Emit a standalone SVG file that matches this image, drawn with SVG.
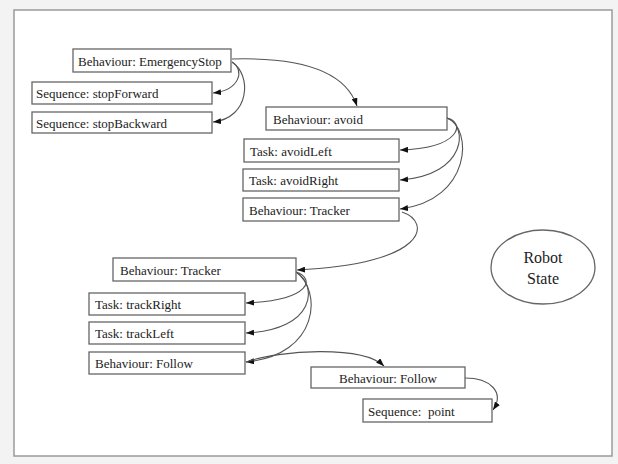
<svg xmlns="http://www.w3.org/2000/svg" width="618" height="464" viewBox="0 0 618 464">
<style>
.box{fill:#fff;stroke:#666;stroke-width:1.3}
.t{font-family:"Liberation Serif","Times New Roman",serif;font-size:13px;fill:#222}
.c{fill:none;stroke:#555;stroke-width:1.1}
</style>
<defs>
<marker id="ah" markerWidth="8" markerHeight="6" refX="8" refY="3" orient="auto" markerUnits="userSpaceOnUse">
<path d="M0,0 L8,3 L0,6 z" fill="#111"/>
</marker>
</defs>
<rect x="0" y="0" width="618" height="464" fill="#f3f3f3"/>
<rect x="14" y="10" width="598" height="446" fill="#fff" stroke="#9a9a9a" stroke-width="1.5"/>
<g id="connectors">
<path class="c" marker-end="url(#ah)" d="M232,62 C245,70 240,90 213,93"/>
<path class="c" marker-end="url(#ah)" d="M232,62 C252,75 250,118 213,122"/>
<path class="c" marker-end="url(#ah)" d="M232,59 C300,57 345,70 357,106"/>
<path class="c" marker-end="url(#ah)" d="M447,118 C465,122 462,148 400,150"/>
<path class="c" marker-end="url(#ah)" d="M447,118 C468,125 468,175 400,180"/>
<path class="c" marker-end="url(#ah)" d="M447,118 C473,128 472,200 400,209"/>
<path class="c" marker-end="url(#ah)" d="M402,212 C432,222 428,264 297,270"/>
<path class="c" marker-end="url(#ah)" d="M296,272 C315,278 312,300 246,303"/>
<path class="c" marker-end="url(#ah)" d="M296,272 C318,285 316,330 246,333"/>
<path class="c" marker-end="url(#ah)" d="M296,272 C322,290 320,355 246,362"/>
<path class="c" marker-end="url(#ah)" d="M246,362 C280,350 362,345 384,366"/>
<path class="c" marker-end="url(#ah)" d="M465,378 C490,378 505,392 493,410"/>
</g>
<g id="n_emergency"><rect class="box" x="73" y="49" width="158" height="23"/><text class="t" x="78" y="66">Behaviour: EmergencyStop</text></g>
<g id="n_stopForward"><rect class="box" x="32" y="82" width="180" height="22"/><text class="t" x="36" y="98">Sequence: stopForward</text></g>
<g id="n_stopBackward"><rect class="box" x="32" y="112" width="180" height="21"/><text class="t" x="36" y="128">Sequence: stopBackward</text></g>
<g id="n_avoid"><rect class="box" x="266" y="107" width="181" height="23"/><text class="t" x="273" y="124">Behaviour: avoid</text></g>
<g id="n_avoidLeft"><rect class="box" x="244" y="139" width="155" height="23"/><text class="t" x="250" y="156">Task: avoidLeft</text></g>
<g id="n_avoidRight"><rect class="box" x="243" y="169" width="156" height="22"/><text class="t" x="249" y="185">Task: avoidRight</text></g>
<g id="n_tracker1"><rect class="box" x="243" y="198" width="156" height="23"/><text class="t" x="249" y="215">Behaviour: Tracker</text></g>
<g id="n_tracker2"><rect class="box" x="113" y="258" width="183" height="23"/><text class="t" x="120" y="275">Behaviour: Tracker</text></g>
<g id="n_trackRight"><rect class="box" x="89" y="293" width="156" height="22"/><text class="t" x="95" y="309">Task: trackRight</text></g>
<g id="n_trackLeft"><rect class="box" x="89" y="322" width="156" height="22"/><text class="t" x="95" y="338">Task: trackLeft</text></g>
<g id="n_follow1"><rect class="box" x="89" y="352" width="156" height="22"/><text class="t" x="95" y="368">Behaviour: Follow</text></g>
<g id="n_follow2"><rect class="box" x="311" y="367" width="154" height="21"/><text class="t" x="388" y="383" text-anchor="middle">Behaviour: Follow</text></g>
<g id="n_point"><rect class="box" x="363" y="399" width="129" height="23"/><text class="t" x="368" y="416" xml:space="preserve">Sequence:  point</text></g>
<g id="n_robotState"><ellipse cx="543" cy="267" rx="52" ry="37" fill="#fff" stroke="#666" stroke-width="1.3"/><text class="t" x="543" y="263" text-anchor="middle" style="font-size:16px">Robot</text><text class="t" x="543" y="284" text-anchor="middle" style="font-size:16px">State</text></g>
</svg>
